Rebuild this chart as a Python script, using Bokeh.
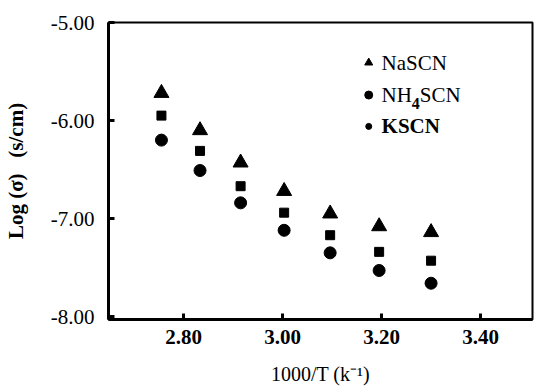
from bokeh.plotting import figure
from bokeh.models import Range1d, FixedTicker, Label
from bokeh.embed import file_html
from bokeh.resources import INLINE

# Inverse temperature (1000/T, K^-1) and log conductivity for each salt
inv_temp = [2.755, 2.833, 2.915, 3.003, 3.096, 3.195, 3.300]
log_sigma_nascn = [-5.72, -6.10, -6.43, -6.72, -6.95, -7.08, -7.14]
log_sigma_nh4scn = [-5.95, -6.31, -6.67, -6.94, -7.17, -7.34, -7.43]
log_sigma_kscn = [-6.20, -6.51, -6.84, -7.12, -7.35, -7.53, -7.66]

x_ticks = [2.80, 3.00, 3.20, 3.40]
x_tick_labels = ["2.80", "3.00", "3.20", "3.40"]
y_ticks = [-8.0, -7.0, -6.0, -5.0]
y_tick_labels = ["-8.00", "-7.00", "-6.00", "-5.00"]

FONT = "Liberation Serif"
X0, X1 = 2.648, 3.505
Y0, Y1 = -8.03, -5.0

p = figure(width=534, height=391, output_backend="svg", toolbar_location=None,
           x_range=Range1d(X0, X1), y_range=Range1d(Y0, Y1),
           min_border_left=108, min_border_right=2, min_border_top=22,
           min_border_bottom=72)
p.background_fill_color = "white"
p.border_fill_color = "white"
p.outline_line_color = "black"
p.outline_line_width = 2
p.grid.visible = False

# Axes: heavy left/bottom lines with short inward ticks
p.xaxis.ticker = FixedTicker(ticks=x_ticks)
p.xaxis.major_label_overrides = {t: s for t, s in zip(x_ticks, x_tick_labels)}
p.yaxis.ticker = FixedTicker(ticks=y_ticks)
p.yaxis.major_label_overrides = {t: s for t, s in zip(y_ticks, y_tick_labels)}
for ax in (p.xaxis, p.yaxis):
    ax.axis_line_width = 3
    ax.axis_line_color = "black"
    ax.major_tick_in = 6
    ax.major_tick_out = 0
    ax.major_tick_line_width = 3
    ax.major_tick_line_color = "black"
    ax.minor_tick_line_color = None
    ax.major_label_text_font = FONT
    ax.major_label_text_font_size = "21px"
    ax.major_label_text_color = "black"
    ax.axis_label_text_font = FONT
    ax.axis_label_text_color = "black"
    ax.axis_label_text_font_style = "normal"
p.xaxis.major_label_text_font_style = "bold"
p.xaxis.major_label_standoff = 10
p.yaxis.major_label_standoff = 14
p.xaxis.axis_label = "1000/T (k\u207b\u00b9)"
p.xaxis.axis_label_text_font_size = "20px"
p.xaxis.axis_label_standoff = 16
p.yaxis.axis_label = "Log (\u03c3)\u00a0\u00a0\u00a0(s/cm)"
p.yaxis.axis_label_text_font_size = "21px"
p.yaxis.axis_label_text_font_style = "bold"
p.yaxis.axis_label_standoff = 20

# Data series
p.scatter(inv_temp, log_sigma_nascn, marker="triangle", size=15, color="black")
p.scatter(inv_temp, log_sigma_nh4scn, marker="square", size=9, color="black")
p.scatter(inv_temp, log_sigma_kscn, marker="circle", size=12, color="black")

# Legend block
lx_marker = 3.174
lx_text = 3.200
ly = [-5.41, -5.74, -6.06]
p.scatter([lx_marker], [ly[0]], marker="triangle", size=8, color="black")
p.scatter([lx_marker], [ly[1]], marker="circle", size=8, color="black")
p.scatter([lx_marker], [ly[2]], marker="circle", size=6, color="black")

FS = "21px"
p.add_layout(Label(x=lx_text, y=ly[0], text="NaSCN", text_font=FONT,
                   text_font_size=FS, text_baseline="middle", text_color="black"))
p.add_layout(Label(x=lx_text, y=ly[1], text="NH", text_font=FONT,
                   text_font_size=FS, text_baseline="middle", text_color="black"))
p.add_layout(Label(x=lx_text + 0.061, y=ly[1] - 0.09, text="4", text_font=FONT,
                   text_font_size="16px", text_baseline="middle", text_color="black",
                   text_font_style="bold"))
p.add_layout(Label(x=lx_text + 0.077, y=ly[1], text="SCN", text_font=FONT,
                   text_font_size=FS, text_baseline="middle", text_color="black"))
p.add_layout(Label(x=lx_text, y=ly[2], text="KSCN", text_font=FONT,
                   text_font_size=FS, text_baseline="middle", text_color="black",
                   text_font_style="bold"))

open("out.html", "w").write(file_html(p, INLINE))
